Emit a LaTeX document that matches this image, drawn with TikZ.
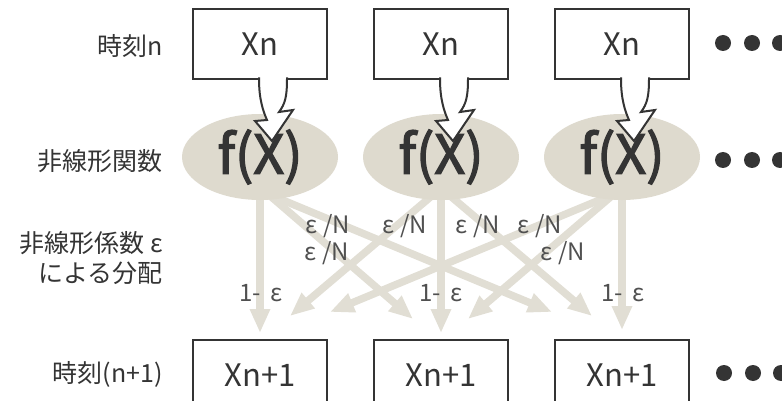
\documentclass[tikz,border=0pt]{standalone}
\usepackage{fontspec}
\setmainfont{Noto Sans CJK JP}
\newfontfamily\fxfont[FakeBold=2.5]{Noto Sans CJK JP}
\usepackage{tikz}
\usetikzlibrary{shapes.geometric,arrows.meta}
\definecolor{mygray}{RGB}{52,52,52}
\definecolor{myshade}{RGB}{222,218,206}
\definecolor{myflow}{RGB}{225,222,212}
\definecolor{mylabel}{RGB}{80,80,80}
\tikzset{
  % state boxes
  statebox/.style={rectangle,draw=mygray,fill=white,line width=2pt,minimum width=134pt,minimum height=70pt,inner sep=0pt,outer sep=0pt,text=mygray,font=\fontsize{31}{33}\selectfont},
  % nonlinear function
  fbubble/.style={ellipse,fill=myshade,minimum width=156pt,minimum height=86pt,inner sep=0pt,outer sep=0pt,text=mygray,font=\fxfont\fontsize{54}{54}\selectfont},
  % callout tail
  tail/.style={draw=mygray,fill=white,line width=2pt,line join=miter},
  % distribution arrows
  flow/.style={draw=myflow,line width=7.5pt,-{Triangle[width=19pt,length=24pt]}},
  % texts
  sidelabel/.style={anchor=east,text=mygray,inner sep=0pt,align=right,font=\fontsize{25}{30}\selectfont},
  weight/.style={text=mylabel,inner sep=0pt,font=\fontsize{24}{26}\selectfont},
  % dots
  bigdot/.style={circle,fill=mygray,inner sep=0pt,minimum size=16pt}
}

\begin{document}
\begin{tikzpicture}[x=1pt,y=-1pt]
  \clip (0,0) rectangle (782,401);
  %%%%%%%%%%%%%%%%%%%%%%%%%%%%%%%%%%%%%%%
  \node[sidelabel] (lab1) at (163,46) {時刻n};
  \node[sidelabel] (lab2) at (163,161) {非線形関数};
  \node[sidelabel] (lab3) at (163,258) {非線形係数 ε\\による分配};
  \node[sidelabel] (lab4) at (163,374) {時刻(n+1)};
  %%%%%%%%%%%%%%%%%%%%%%%%%%%%%%%%%%%%%%%
  \node[statebox] (o1) at (260,375) {Xn+1};
  \node[statebox] (o2) at (441,375) {Xn+1};
  \node[statebox] (o3) at (622,375) {Xn+1};
  \coordinate (f1) at (260,157);
  \coordinate (f2) at (441,157);
  \coordinate (f3) at (622,157);
  \coordinate (f1s) at (260,200);
  \coordinate (f2s) at (441,200);
  \coordinate (f3s) at (622,200);
  %%%%%%%%%%%%%%%%%%%%%%%%%%%%%%%%%%%%%%%
  \draw[flow] (f1s) -- ([yshift=7pt]o1.north);
  \draw[flow] ([xshift=8pt,yshift=6pt]f1s) -- ([xshift=-28pt,yshift=21pt]o2.north);
  \draw[flow] ([xshift=8pt,yshift=6pt]f1s) -- ([xshift=-70pt,yshift=28pt]o3.north);
  \draw[flow] ([xshift=-7pt,yshift=6pt]f2s) -- ([xshift=30pt,yshift=24pt]o1.north);
  \draw[flow] (f2s) -- ([yshift=7pt]o2.north);
  \draw[flow] ([xshift=7pt,yshift=6pt]f2s) -- ([xshift=-30pt,yshift=24pt]o3.north);
  \draw[flow] ([xshift=-8pt,yshift=6pt]f3s) -- ([xshift=70pt,yshift=28pt]o1.north);
  \draw[flow] ([xshift=-8pt,yshift=6pt]f3s) -- ([xshift=27pt,yshift=21pt]o2.north);
  \draw[flow] (f3s) -- ([yshift=10pt]o3.north);
  %%%%%%%%%%%%%%%%%%%%%%%%%%%%%%%%%%%%%%%
  \node[fbubble] (e1) at (f1) {f(X)};
  \node[fbubble] (e2) at (f2) {f(X)};
  \node[fbubble] (e3) at (f3) {f(X)};
  \node[statebox] (t1) at (260,44) {Xn};
  \node[statebox] (t2) at (441,44) {Xn};
  \node[statebox] (t3) at (622,44) {Xn};
  %%%%%%%%%%%%%%%%%%%%%%%%%%%%%%%%%%%%%%%
  \begin{scope}[shift={(t1.south)}]
    \draw[tail] (-1,-1.5) -- (-1,0) .. controls (-1,20) and (3,32) .. (7,41) -- (-5,42) -- (12,62) -- (33,31) -- (19,33) .. controls (25,25) and (27,18) .. (27,0) -- (27,-1.5);
  \end{scope}
  \begin{scope}[shift={(t2.south)}]
    \draw[tail] (-1,-1.5) -- (-1,0) .. controls (-1,20) and (3,32) .. (7,41) -- (-5,42) -- (12,62) -- (33,31) -- (19,33) .. controls (25,25) and (27,18) .. (27,0) -- (27,-1.5);
  \end{scope}
  \begin{scope}[shift={(t3.south)}]
    \draw[tail] (-1,-1.5) -- (-1,0) .. controls (-1,20) and (3,32) .. (7,41) -- (-5,42) -- (12,62) -- (33,31) -- (19,33) .. controls (25,25) and (27,18) .. (27,0) -- (27,-1.5);
  \end{scope}
  %%%%%%%%%%%%%%%%%%%%%%%%%%%%%%%%%%%%%%%
  \node[weight] (w1) at (328,226) {ε /N};
  \node[weight] (w2) at (405,226) {ε /N};
  \node[weight] (w3) at (478,226) {ε /N};
  \node[weight] (w4) at (540,226) {ε /N};
  \node[weight] (w5) at (327,253) {ε /N};
  \node[weight] (w6) at (563,253) {ε /N};
  \node[weight] (s1) at (261,293) {1-\hspace{10pt}ε};
  \node[weight] (s2) at (441,293) {1-\hspace{10pt}ε};
  \node[weight] (s3) at (623,293) {1-\hspace{10pt}ε};
  %%%%%%%%%%%%%%%%%%%%%%%%%%%%%%%%%%%%%%%
  \node[bigdot] (d1) at (723,43) {};
  \node[bigdot] (d2) at (752,43) {};
  \node[bigdot] (d3) at (780,43) {};
  \node[bigdot] (d4) at (723,160) {};
  \node[bigdot] (d5) at (752,160) {};
  \node[bigdot] (d6) at (780,160) {};
  \node[bigdot] (d7) at (724,373) {};
  \node[bigdot] (d8) at (753,373) {};
  \node[bigdot] (d9) at (781,373) {};
\end{tikzpicture}
\end{document}
